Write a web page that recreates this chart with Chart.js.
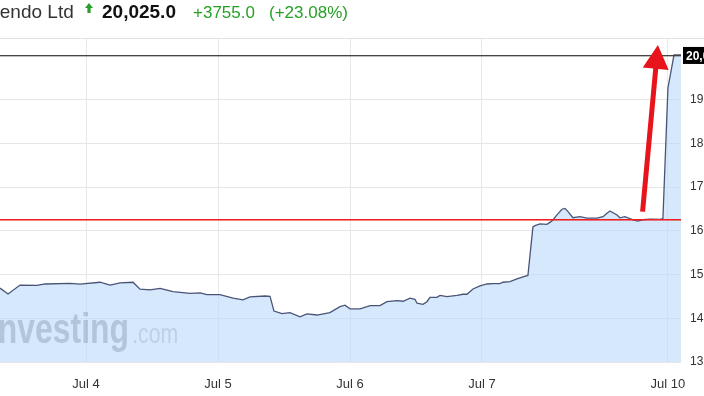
<!DOCTYPE html>
<html>
<head>
<meta charset="utf-8">
<script src="https://cdn.jsdelivr.net/npm/chart.js@4/dist/chart.umd.min.js"></script>
<style>
  html,body{margin:0;padding:0;background:#fff;overflow:hidden;}
  #wrap{position:relative;width:704px;height:396px;overflow:hidden;}
  #c{position:absolute;left:0;top:0;}
  .h{position:absolute;white-space:nowrap;font-family:"Liberation Sans",Arial,sans-serif;line-height:1;}
</style>
</head>
<body>
<div id="wrap">
  <canvas id="c" width="740" height="396" style="width:740px;height:396px"></canvas>
  <span class="h" style="left:-34px;top:2px;font-size:19px;color:#333;">Nintendo Ltd</span>
  <svg class="h" style="left:85px;top:3px" width="8" height="10" viewBox="0 0 8 10"><polygon points="4,0 8,5 5.6,5 5.6,10 2.4,10 2.4,5 0,5" fill="#2a9e2a"/></svg>
  <span class="h" style="left:102px;top:2px;font-size:19px;font-weight:bold;color:#111;">20,025.0</span>
  <span class="h" style="left:193px;top:4px;font-size:17px;color:#26a026;">+3755.0</span>
  <span class="h" style="left:269px;top:4px;font-size:17px;color:#26a026;">(+23.08%)</span>
</div>
<script>
// ---- data ----
const dayPos = [0.348,0.409,0.500,0.629,0.689,0.879,0.955,1.106,1.182,1.258,1.356,1.409,1.485,1.561,1.659,1.788,1.864,1.917,2.015,2.114,2.189,2.242,2.356,2.394,2.424,2.485,2.545,2.621,2.674,2.750,2.848,2.924,2.962,3.000,3.076,3.129,3.152,3.227,3.280,3.356,3.402,3.455,3.492,3.508,3.553,3.583,3.606,3.659,3.682,3.735,3.811,3.856,3.886,3.932,3.985,4.038,4.083,4.136,4.159,4.212,4.265,4.311,4.348,4.386,4.402,4.439,4.492,4.515,4.538,4.568,4.606,4.629,4.652,4.689,4.742,4.795,4.871,4.917,4.947,4.970,5.023,5.045,5.083,5.106,5.144,5.182,5.220,5.273,5.348,5.371,5.409,5.455,5.508];
const price = [14690,14555,14760,14755,14785,14800,14780,14825,14760,14810,14825,14665,14650,14685,14610,14570,14580,14540,14540,14460,14420,14490,14510,14500,14165,14105,14130,14035,14100,14075,14130,14265,14300,14215,14215,14265,14290,14290,14380,14405,14390,14460,14435,14345,14320,14380,14480,14480,14525,14495,14525,14550,14550,14670,14740,14785,14795,14795,14825,14840,14900,14950,14980,16090,16120,16160,16150,16195,16250,16365,16495,16515,16440,16300,16325,16290,16290,16325,16405,16455,16365,16300,16325,16300,16250,16225,16255,16270,16265,16280,19270,20025,20025];
const tickPos = [1, 2, 3, 4, 5.409];
const tickLabels = ['Jul 4', 'Jul 5', 'Jul 6', 'Jul 7', 'Jul 10'];
const yTicks = [13000, 14000, 15000, 16000, 17000, 18000, 19000];
const prevClose = 16270;
const lastPrice = 20025;
const lastLabel = '20,025.0';
const arrowFrom = {x: 5.217, y: 16440};
const arrowTo = {x: 5.333, y: 20255};

const points = dayPos.map((x, i) => ({x: x, y: price[i]}));

const overlay = {
  id: 'overlay',
  beforeDraw(chart) {
    const ctx = chart.ctx, a = chart.chartArea;
    ctx.save();
    ctx.fillStyle = '#e2e2e2';
    ctx.fillRect(0, a.top - 1, chart.width, 1);
    ctx.restore();
  },
  afterDatasetsDraw(chart) {
    const ctx = chart.ctx, a = chart.chartArea;
    const xs = chart.scales.x, ys = chart.scales.y;
    // watermark
    ctx.save();
    ctx.beginPath(); ctx.rect(a.left, a.top, a.right - a.left, a.bottom - a.top); ctx.clip();
    ctx.textBaseline = 'alphabetic';
    ctx.translate(a.left - 11, 343);
    ctx.scale(0.76, 1);
    ctx.font = 'bold 42px "Liberation Sans", Arial, sans-serif';
    ctx.fillStyle = 'rgba(110,125,145,0.33)';
    ctx.fillText('Investing', 0, 0);
    const w = ctx.measureText('Investing').width;
    ctx.font = '28px "Liberation Sans", Arial, sans-serif';
    ctx.fillStyle = 'rgba(110,125,145,0.22)';
    ctx.fillText('.com', w + 4, 0);
    ctx.restore();

    ctx.save();
    // previous close line
    const yp = Math.round(ys.getPixelForValue(prevClose));
    ctx.fillStyle = '#f01e1e';
    ctx.fillRect(a.left, yp, a.right - a.left, 1);
    ctx.fillStyle = 'rgba(240,30,30,0.55)';
    ctx.fillRect(a.left, yp + 1, a.right - a.left, 1);

    // last price line
    const yl = ys.getPixelForValue(lastPrice);
    ctx.fillStyle = '#444';
    ctx.fillRect(a.left, Math.round(yl), a.right - a.left, 1);
    ctx.fillStyle = 'rgba(68,68,68,0.35)';
    ctx.fillRect(a.left, Math.round(yl) + 1, a.right - a.left, 1);

    // price box
    ctx.fillStyle = '#000';
    ctx.fillRect(a.right + 2, yl - 8, 70, 17);
    ctx.fillStyle = '#fff';
    ctx.font = 'bold 12px "Liberation Sans", Arial, sans-serif';
    ctx.textBaseline = 'middle';
    ctx.textAlign = 'left';
    ctx.fillText(lastLabel, a.right + 5, yl + 1.5);

    // red arrow
    const x0 = xs.getPixelForValue(arrowFrom.x), y0 = ys.getPixelForValue(arrowFrom.y);
    const x1 = xs.getPixelForValue(arrowTo.x), y1 = ys.getPixelForValue(arrowTo.y);
    const dx = x1 - x0, dy = y1 - y0, len = Math.hypot(dx, dy);
    const ux = dx / len, uy = dy / len, nx = -uy, ny = ux;
    const headL = 24, headW = 13, shaftW = 5;
    const bx = x1 - ux * headL, by = y1 - uy * headL;
    ctx.fillStyle = '#e8141b';
    ctx.beginPath();
    ctx.moveTo(x0 + nx * shaftW / 2, y0 + ny * shaftW / 2);
    ctx.lineTo(bx + nx * shaftW / 2, by + ny * shaftW / 2);
    ctx.lineTo(bx + nx * headW, by + ny * headW);
    ctx.lineTo(x1, y1);
    ctx.lineTo(bx - nx * headW, by - ny * headW);
    ctx.lineTo(bx - nx * shaftW / 2, by - ny * shaftW / 2);
    ctx.lineTo(x0 - nx * shaftW / 2, y0 - ny * shaftW / 2);
    ctx.closePath();
    ctx.fill();
    ctx.restore();
  }
};

new Chart(document.getElementById('c'), {
  type: 'line',
  data: {
    datasets: [{
      data: points,
      borderColor: '#4a5477',
      borderWidth: 1.3,
      backgroundColor: 'rgba(185,217,250,0.6)',
      fill: 'start',
      pointRadius: 0,
      tension: 0
    }]
  },
  options: {
    responsive: false,
    animation: false,
    devicePixelRatio: 1,
    layout: {padding: {top: 39, left: 0, right: 0, bottom: 0}},
    plugins: {legend: {display: false}, tooltip: {enabled: false}},
    scales: {
      x: {
        type: 'linear',
        min: dayPos[0],
        max: dayPos[dayPos.length - 1],
        afterBuildTicks: s => { s.ticks = tickPos.map(v => ({value: v})); },
        afterFit: s => { s.height = 34; },
        grid: {color: '#e9e9e9', drawTicks: false},
        border: {display: false},
        ticks: {
          autoSkip: false, maxRotation: 0, padding: 15,
          color: '#333',
          font: {family: '"Liberation Sans", Arial, sans-serif', size: 13},
          callback: (v) => { const i = tickPos.indexOf(v); return i >= 0 ? tickLabels[i] : ''; }
        }
      },
      y: {
        position: 'right',
        min: 13000,
        max: 20390,
        afterBuildTicks: s => { s.ticks = yTicks.map(v => ({value: v})); },
        afterFit: s => { s.width = 59; },
        grid: {color: '#e6e6e6', drawTicks: false},
        border: {display: false},
        ticks: {
          padding: 9,
          color: '#333',
          font: {family: '"Liberation Sans", Arial, sans-serif', size: 12},
          callback: v => v.toLocaleString('en-US')
        }
      }
    }
  },
  plugins: [overlay]
});
</script>
</body>
</html>
